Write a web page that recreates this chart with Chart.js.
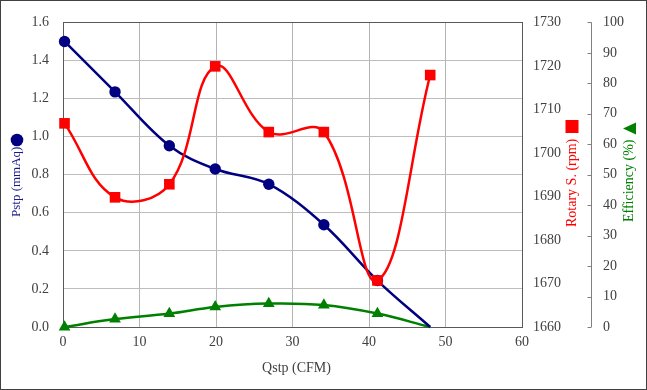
<!DOCTYPE html>
<html>
<head>
<meta charset="utf-8">
<script src="https://cdn.jsdelivr.net/npm/chart.js@4"></script>
<style>
  html, body { margin: 0; padding: 0; background: #fff; }
  #wrap { width: 647px; height: 390px; position: relative; }
</style>
</head>
<body>
<div id="wrap"><canvas id="myChart" width="647" height="390"></canvas></div>
<script>
// data
const qstp = [0.2, 6.8, 13.9, 19.9, 26.9, 34.1, 41.1, 48.0];
const pstp = [1.50, 1.235, 0.952, 0.830, 0.750, 0.537, 0.244, 0.0];
const rotary = [1706.8, 1689.8, 1692.8, 1719.9, 1704.8, 1704.8, 1670.7, 1717.9];
const efficiency = [0, 2.6, 4.4, 6.6, 7.7, 7.2, 4.4, 0];

const xTicks = [0, 10, 20, 30, 40, 50, 60];
const pstpTicks = [0, 0.2, 0.4, 0.6, 0.8, 1.0, 1.2, 1.4, 1.6];
const rpmTicks = [1660, 1670, 1680, 1690, 1700, 1710, 1720, 1730];
const effTicks = [0, 10, 20, 30, 40, 50, 60, 70, 80, 90, 100];

const NAVY = '#000080';
const RED = '#ff0000';
const GREEN = '#008000';
const TXT = '#404040';
const FONT = '"Liberation Serif", "Times New Roman", serif';

const pts = (ys) => ys.map((y, i) => ({ x: qstp[i], y: y }));
const lastHidden = (r) => qstp.map((_, i) => i === qstp.length - 1 ? 0 : r);

// frame, efficiency axis line, axis titles
const extras = {
  id: 'extras',
  beforeDatasetsDraw(chart) {
    const { ctx, chartArea: a } = chart;
    ctx.save();
    ctx.strokeStyle = '#595959';
    ctx.lineWidth = 1;
    ctx.strokeRect(Math.round(a.left) + 0.5, Math.round(a.top) + 0.5,
      Math.round(a.right - a.left), Math.round(a.bottom - a.top));
    // efficiency axis
    const s = chart.scales.y2;
    const ax = Math.round(s.left) + 0.5;
    ctx.strokeStyle = '#808080';
    ctx.beginPath();
    ctx.moveTo(ax, s.getPixelForValue(0));
    ctx.lineTo(ax, s.getPixelForValue(100));
    effTicks.forEach(v => {
      const y = Math.round(s.getPixelForValue(v)) + 0.5;
      ctx.moveTo(ax - 4, y);
      ctx.lineTo(ax, y);
    });
    ctx.stroke();
    ctx.restore();
  },
  afterDraw(chart) {
    const { ctx } = chart;
    ctx.save();
    // outer border
    ctx.strokeStyle = '#404040';
    ctx.lineWidth = 1;
    ctx.strokeRect(0.5, 0.5, 646, 389);

    ctx.font = '14px ' + FONT;
    ctx.textBaseline = 'middle';
    ctx.textAlign = 'center';
    ctx.fillStyle = TXT;
    ctx.fillText('Qstp (CFM)', 296.5, 368);

    const vtitle = (text, x, yStart, color, size) => {
      ctx.save();
      ctx.translate(x, yStart);
      ctx.rotate(-Math.PI / 2);
      ctx.font = size + 'px ' + FONT;
      ctx.textAlign = 'left';
      ctx.fillStyle = color;
      ctx.fillText(text, 0, 0);
      ctx.restore();
    };
    vtitle('Pstp (mmAq)', 17, 217, '#1a1a8c', 13);
    vtitle('Rotary S. (rpm)', 572, 227, RED, 14);
    vtitle('Efficiency (%)', 629, 222, GREEN, 14);

    // markers next to titles
    ctx.fillStyle = NAVY;
    ctx.beginPath();
    ctx.arc(17, 140, 6.3, 0, Math.PI * 2);
    ctx.fill();
    ctx.fillStyle = RED;
    ctx.fillRect(565.5, 120, 13, 13);
    ctx.fillStyle = GREEN;
    ctx.beginPath();
    ctx.moveTo(623, 128.5);
    ctx.lineTo(636, 122.5);
    ctx.lineTo(636, 134.5);
    ctx.closePath();
    ctx.fill();
    ctx.restore();
  }
};

const tickFont = { family: FONT, size: 14 };

var ctx = document.getElementById('myChart').getContext('2d');
var myChart = new Chart(ctx, {
  type: 'line',
  data: {
    datasets: [{
      label: 'Rotary S. (rpm)',
      data: pts(rotary),
      yAxisID: 'y1',
      borderColor: RED,
      backgroundColor: RED,
      borderWidth: 2.5,
      pointBorderWidth: 0,
      pointStyle: 'rect',
      pointRadius: 7.5,
      tension: 0.4,
      clip: false,
      order: 1
    }, {
      label: 'Pstp (mmAq)',
      data: pts(pstp),
      yAxisID: 'y',
      borderColor: NAVY,
      backgroundColor: NAVY,
      borderWidth: 2.5,
      pointBorderWidth: 0,
      pointStyle: 'circle',
      pointRadius: lastHidden(5.7),
      tension: 0.35,
      clip: false,
      order: 2
    }, {
      label: 'Efficiency (%)',
      data: pts(efficiency),
      yAxisID: 'y2',
      borderColor: GREEN,
      backgroundColor: GREEN,
      borderWidth: 2.5,
      pointBorderWidth: 0,
      pointStyle: 'triangle',
      pointRadius: lastHidden(6.8),
      tension: 0.4,
      clip: false,
      order: 3
    }]
  },
  plugins: [extras],
  options: {
    responsive: false,
    animation: false,
    events: [],
    layout: { padding: { top: 19, left: 0, right: 0, bottom: 0 } },
    plugins: { legend: { display: false }, tooltip: { enabled: false } },
    scales: {
      x: {
        type: 'linear',
        min: 0, max: 60,
        afterBuildTicks: (s) => { s.ticks = xTicks.map(v => ({ value: v })); },
        afterFit: (s) => { s.height = 63; },
        grid: { color: '#b4b4b4', drawTicks: false },
        border: { display: false },
        ticks: { font: tickFont, color: TXT, padding: 7, maxRotation: 0, callback: (v) => String(v) }
      },
      y: {
        position: 'left',
        min: 0, max: 1.6,
        afterBuildTicks: (s) => { s.ticks = pstpTicks.map(v => ({ value: v })); },
        afterFit: (s) => { s.width = 63; },
        grid: { color: '#bdbdbd', drawTicks: false },
        border: { display: false },
        ticks: { font: tickFont, color: TXT, padding: 14, callback: (v) => v.toFixed(1) }
      },
      y1: {
        position: 'right',
        min: 1660, max: 1730,
        afterBuildTicks: (s) => { s.ticks = rpmTicks.map(v => ({ value: v })); },
        afterFit: (s) => { s.width = 69; },
        grid: { display: false, drawTicks: false },
        border: { display: false },
        ticks: { font: tickFont, color: TXT, padding: 11, callback: (v) => String(v) }
      },
      y2: {
        position: 'right',
        min: 0, max: 100,
        afterBuildTicks: (s) => { s.ticks = effTicks.map(v => ({ value: v })); },
        afterFit: (s) => { s.width = 56; },
        grid: { display: false, drawTicks: false },
        border: { display: false },
        ticks: { font: tickFont, color: TXT, padding: 12, callback: (v) => String(v) }
      }
    }
  }
});
</script>
</body>
</html>
